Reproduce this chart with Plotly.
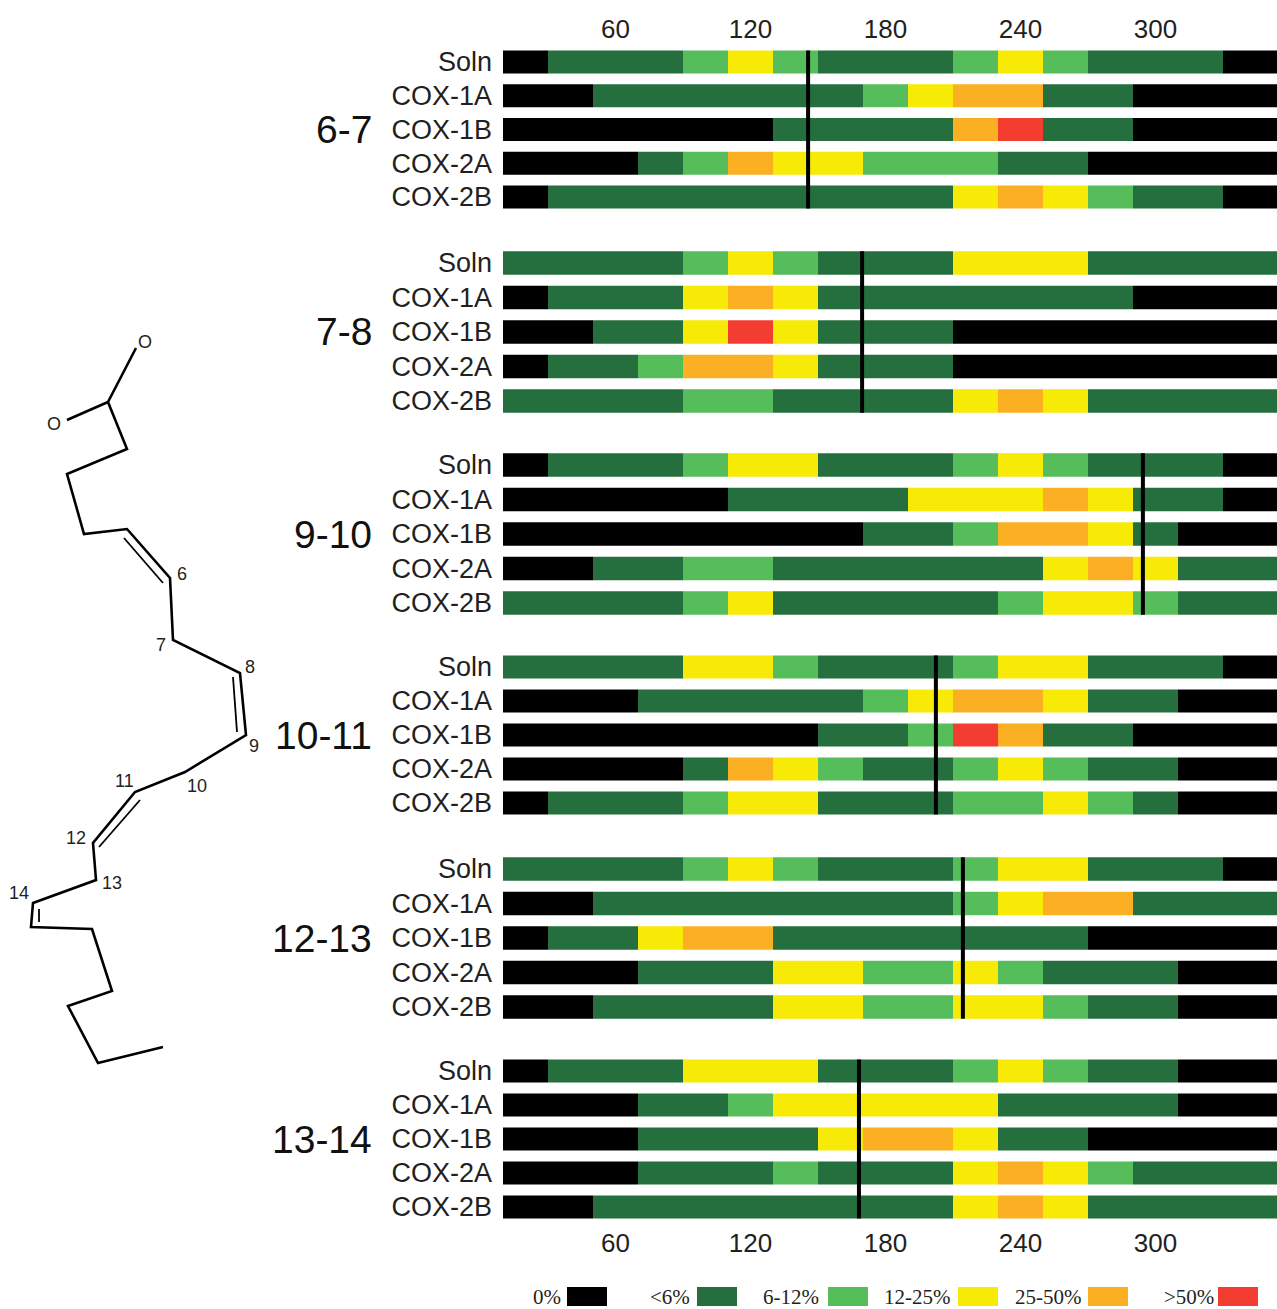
import plotly.graph_objects as go

W, H = 1277, 1309

# ---- data ----
ROW_LABELS = ["Soln", "COX-1A", "COX-1B", "COX-2A", "COX-2B"]
BIN_STARTS = [10 + 20 * i for i in range(18)]   # 20-degree bins
X_TICKS = [60, 120, 180, 240, 300]
PANEL_NAMES = ["6-7", "7-8", "9-10", "10-11", "12-13", "13-14"]

# K = 0%, D = <6%, G = 6-12%, Y = 12-25%, O = 25-50%, R = >50%
P_6_7 = ["KDDDGYGDDDGYGDDDKK", "KKDDDDDDGYOODDKKKK", "KKKKKKDDDDORDDKKKK",
         "KKKDGOYYGGGDDKKKKK", "KDDDDDDDDDYOYGDDKK"]
P_7_8 = ["DDDDGYGDDDYYYDDDDD", "KDDDYOYDDDDDDDKKKK", "KKDDYRYDDDKKKKKKKK",
         "KDDGOOYDDDKKKKKKKK", "DDDDGGDDDDYOYDDDDD"]
P_9_10 = ["KDDDGYYDDDGYGDDDKK", "KKKKKDDDDYYYOYDDKK", "KKKKKKKKDDGOOYDKKK",
          "KKDDGGDDDDDDYOYDDD", "DDDDGYDDDDDGYYGDDD"]
P_10_11 = ["DDDDYYGDDDGYYDDDKK", "KKKDDDDDGYOOYDDKKK", "KKKKKKKDDGRODDKKKK",
           "KKKKDOYGDDGYGDDKKK", "KDDDGYYDDDGGYGDKKK"]
P_12_13 = ["DDDDGYGDDDGYYDDDKK", "KKDDDDDDDDGYOODDDD", "KDDYOODDDDDDDKKKKK",
           "KKKDDDYYGGYGDDDKKK", "KKDDDDYYGGYYGDDKKK"]
P_13_14 = ["KDDDYYYDDDGYGDDKKK", "KKKDDGYYYYYDDDDKKK", "KKKDDDDYOOYDDKKKKK",
           "KKKDDDGDDDYOYGDDDD", "KKDDDDDDDDYOYDDDDD"]
PANELS = [P_6_7, P_7_8, P_9_10, P_10_11, P_12_13, P_13_14]
MARKER_ANGLES = [145.6, 169.6, 294.4, 202.4, 214.4, 168.2]

CLASS_CODES = ["K", "D", "G", "Y", "O", "R"]
CLASS_NAMES = ["0%", "<6%", "6-12%", "12-25%", "25-50%", ">50%"]
CLASS_COLORS = ["#000000", "#256F3F", "#55BE5B", "#F7EA06", "#FBB024", "#F33D30"]

# molecule drawing (page-pixel sketch coordinates)
CHAIN_X = [136, 108, 127, 67, 84, 127, 170, 173, 240, 246, 185, 135, 93, 96, 33, 31, 92, 112, 68, 98, 163]
CHAIN_Y = [348, 402, 449, 474, 534, 529, 578, 640, 673, 735, 772, 792, 843, 880, 903, 927, 929, 991, 1006, 1063, 1047]
BRANCH_X, BRANCH_Y = [67, 108], [420, 402]
INNER_BONDS = [((124, 538), (163, 583)), ((233, 677), (237, 732)),
               ((140, 800), (99, 847)), ((39, 909), (39, 922))]
ATOMS = [("O", 145, 342), ("O", 54, 424), ("6", 182, 574), ("7", 161, 645), ("8", 250, 667),
         ("9", 254, 746), ("10", 197, 786), ("11", 124, 781), ("12", 76, 838),
         ("13", 112, 883), ("14", 19, 893)]

# ---- layout helpers ----
PANEL_ROWS = [(62, 197), (263, 401), (465, 603), (667, 803), (869, 1007), (1071, 1207)]
SANS = "Liberation Sans, Arial, sans-serif"
SERIF = "Liberation Serif, Times New Roman, serif"
TXT = "#231F20"
PLOT_LEFT = 503
BAR_W = 0.68

fig = go.Figure()
layout = dict(
    width=W, height=H, margin=dict(l=0, r=0, t=0, b=0), autosize=False,
    paper_bgcolor="white", plot_bgcolor="rgba(0,0,0,0)",
    barmode="overlay", showlegend=False, hovermode=False,
)
annotations, shapes = [], []

for p, rows in enumerate(PANELS):
    n = p + 1
    xa = "x" if n == 1 else f"x{n}"
    ya = "y" if n == 1 else f"y{n}"
    first, last = PANEL_ROWS[p]
    pitch = (last - first) / 4
    top, bottom = first - pitch / 2, last + pitch / 2
    show_x = p in (0, len(PANELS) - 1)
    layout[f"xaxis{'' if n == 1 else n}"] = dict(
        domain=[PLOT_LEFT / W, 1], range=[10, 354], anchor=ya,
        side="top" if p == 0 else "bottom",
        tickmode="array", tickvals=X_TICKS, ticktext=[str(v) for v in X_TICKS],
        showticklabels=show_x, ticks="", showgrid=False, zeroline=False, showline=False,
        ticklabelstandoff=1 if p == 0 else 1,
        tickfont=dict(family=SANS, size=26, color=TXT),
    )
    layout[f"yaxis{'' if n == 1 else n}"] = dict(
        domain=[1 - bottom / H, 1 - top / H], range=[4.5, -0.5], anchor=xa,
        tickmode="array", tickvals=list(range(5)), ticktext=ROW_LABELS,
        ticks="", showgrid=False, zeroline=False, showline=False,
        ticklabelstandoff=10,
        tickfont=dict(family=SANS, size=27, color=TXT),
    )
    for code, name, color in zip(CLASS_CODES, CLASS_NAMES, CLASS_COLORS):
        xs, ys = [], []
        for r, row in enumerate(rows):
            for start, c in zip(BIN_STARTS, row):
                if c == code:
                    xs.append(start)
                    ys.append(r)
        if xs:
            fig.add_trace(go.Bar(
                orientation="h", base=xs, x=[20] * len(xs), y=ys, width=BAR_W,
                offset=-BAR_W / 2, name=name, marker=dict(color=color, line=dict(width=0)),
                xaxis=xa, yaxis=ya,
            ))
    fig.add_trace(go.Scatter(
        x=[MARKER_ANGLES[p]] * 2, y=[-0.34, 4.34], mode="lines",
        line=dict(color="black", width=4), xaxis=xa, yaxis=ya,
    ))
    annotations.append(dict(
        text=PANEL_NAMES[p], xref="paper", yref="paper", x=374 / W, y=1 - (first + last) / 2 / H,
        xanchor="right", yanchor="middle", showarrow=False,
        font=dict(family=SANS, size=39, color="#111111"),
    ))

# overlay axis for the molecule, measured in page pixels
layout["xaxis7"] = dict(domain=[0, 1], range=[0, W], visible=False, anchor="y7", fixedrange=True)
layout["yaxis7"] = dict(domain=[0, 1], range=[H, 0], visible=False, anchor="x7", fixedrange=True)

BOND = dict(color="black", width=2.6)
fig.add_trace(go.Scatter(x=CHAIN_X, y=CHAIN_Y, mode="lines", line=BOND, xaxis="x7", yaxis="y7"))
fig.add_trace(go.Scatter(x=BRANCH_X, y=BRANCH_Y, mode="lines", line=BOND, xaxis="x7", yaxis="y7"))
for a, b in INNER_BONDS:
    fig.add_trace(go.Scatter(x=[a[0], b[0]], y=[a[1], b[1]], mode="lines",
                             line=dict(color="black", width=1.8), xaxis="x7", yaxis="y7"))
for label, ax, ay in ATOMS:
    annotations.append(dict(text=label, xref="x7", yref="y7", x=ax, y=ay, showarrow=False,
                            xanchor="center", yanchor="middle",
                            font=dict(family=SANS, size=18, color=TXT)))

# colour key along the bottom
KEY_X0 = [567, 697, 828, 958, 1088, 1218]
KEY_TEXT_RIGHT = [563, 692, 821, 953, 1084, 1216]
for name, color, x0, tr in zip(CLASS_NAMES, CLASS_COLORS, KEY_X0, KEY_TEXT_RIGHT):
    shapes.append(dict(type="rect", xref="x7", yref="y7", x0=x0, x1=x0 + 40, y0=1287, y1=1306,
                       fillcolor=color, line=dict(width=0)))
    annotations.append(dict(text=name.replace("<", "&lt;"), xref="x7", yref="y7", x=tr, y=1297, showarrow=False,
                            xanchor="right", yanchor="middle",
                            font=dict(family=SERIF, size=21, color=TXT)))

layout["annotations"] = annotations
layout["shapes"] = shapes
fig.update_layout(**layout)
fig.write_html(
    "out.html",
    config={"displayModeBar": False},
    post_script="document.body.style.margin='0';document.body.style.overflow='hidden';",
)
